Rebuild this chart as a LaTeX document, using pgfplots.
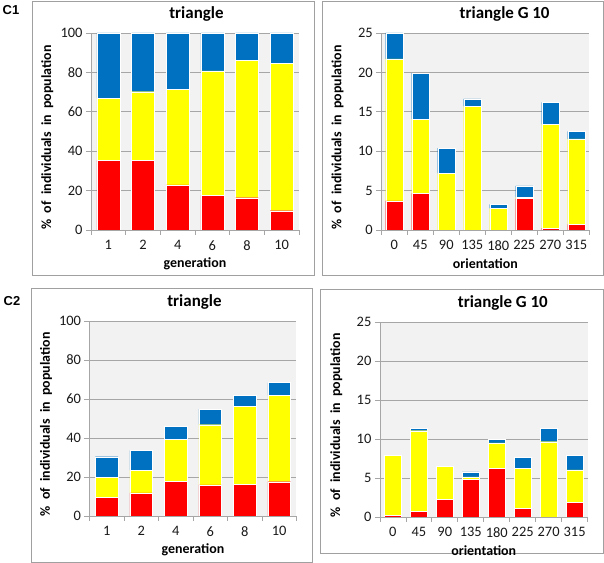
\documentclass[border=0pt]{standalone}
\usepackage{fontspec}
\setmainfont{Carlito}
\newfontfamily\arialf{Liberation Sans}
\usepackage{pgfplots}
\pgfplotsset{compat=1.18}
\definecolor{bgc}{HTML}{F2F2F2}
\definecolor{axc}{HTML}{A6A6A6}
\definecolor{boxc}{HTML}{A0A0A0}
\definecolor{cblue}{HTML}{0070C0}
\definecolor{cred}{HTML}{FF0000}
\definecolor{cyel}{HTML}{FFFF00}
\pgfplotsset{
  panel/.style={
    scale only axis,
    axis background/.style={fill=bgc},
    ybar stacked, bar width=0.66,
    axis x line*=bottom, axis y line*=left,
    axis line style={draw=axc, line width=0.8pt, -},
    ymajorgrids, major grid style={draw=axc, line width=0.7pt},
    tick align=outside,
    major tick length=5bp, minor tick length=5bp,
    major x tick style={draw=none},
    minor x tick style={draw=axc, line width=0.7pt},
    ytick style={draw=axc, line width=0.7pt},
    /pgf/number format/assume math mode=true,
    ticklabel style={font=\fontsize{14.5}{15}\selectfont, text=black!90},
    xticklabel style={yshift=-2bp},
    title style={font=\fontsize{17}{19}\bfseries, anchor=center, yshift=13bp},
    label style={font=\fontsize{14}{15}\bfseries},
    xlabel style={at={(axis description cs:0.5,0)}, anchor=center, yshift=-34bp},
    ylabel style={at={(axis description cs:-0.21,0.47)}, anchor=center},
    ylabel={\%~ of~ individuals~ in~ population},
    every axis plot/.append style={draw=white, line width=0.3pt},
    ymin=0,
  },
  gen/.style={
    xmin=-0.5, xmax=5.5, xtick={0,...,5}, xticklabels={1,2,4,6,8,10},
    minor xtick={-0.5,0.5,...,5.5},
    ymax=100, ytick={0,20,...,100}, xlabel={generation},
  },
  ori/.style={
    xmin=-0.5, xmax=7.5, xtick={0,...,7}, xticklabels={0,45,90,135,180,225,270,315},
    minor xtick={-0.5,0.5,...,7.5},
    ymax=25, ytick={0,5,...,25}, xlabel={orientation},
  },
}
\begin{document}
\begin{tikzpicture}
\useasboundingbox (0,0) rectangle (604bp,563bp);
% boxes
\draw[boxc, line width=0.9pt] (32bp,288bp) rectangle (314bp,562bp);
\draw[boxc, line width=0.9pt] (322bp,288bp) rectangle (603bp,562bp);
\draw[boxc, line width=0.9pt] (31bp,0.5bp) rectangle (312bp,275bp);
\draw[boxc, line width=0.9pt] (320bp,10bp) rectangle (603bp,274bp);
\node[font=\arialf\bfseries\fontsize{13}{14}\selectfont] at (11bp,553bp) {C1};
\node[font=\arialf\bfseries\fontsize{13}{14}\selectfont] at (12bp,262bp) {C2};

% panel C1 left
\begin{axis}[panel, gen, at={(91bp,333bp)}, anchor=south west, width=208bp, height=197bp,
  title={triangle}, title style={at={(axis description cs:0.507,1)}}]
\addplot[fill=cred] coordinates {(0,35.4) (1,35.4) (2,22.9) (3,17.6) (4,16.4) (5,9.8)};
\addplot[fill=cyel] coordinates {(0,31.5) (1,34.8) (2,48.5) (3,63.2) (4,69.7) (5,74.8)};
\addplot[fill=cblue] coordinates {(0,33.1) (1,29.8) (2,28.6) (3,19.2) (4,13.9) (5,15.4)};
\end{axis}

% panel C1 right
\begin{axis}[panel, ori, at={(381.3bp,333bp)}, anchor=south west, width=208bp, height=197bp,
  title={triangle G 10}, title style={at={(axis description cs:0.593,1)}}]
\addplot[fill=cred] coordinates {(0,3.7) (1,4.66) (2,0) (3,0) (4,0) (5,3.98) (6,0.25) (7,0.72)};
\addplot[fill=cyel] coordinates {(0,18.0) (1,9.41) (2,7.2) (3,15.7) (4,2.75) (5,0.17) (6,13.15) (7,10.85)};
\addplot[fill=cblue] coordinates {(0,3.3) (1,5.83) (2,3.2) (3,0.95) (4,0.51) (5,1.45) (6,2.8) (7,0.93)};
\end{axis}

% panel C2 left
\begin{axis}[panel, gen, at={(89.5bp,47bp)}, anchor=south west, width=207bp, height=195bp,
  title={triangle}, title style={at={(axis description cs:0.507,1)}}]
\addplot[fill=cred] coordinates {(0,9.7) (1,11.9) (2,17.9) (3,15.9) (4,16.4) (5,17.6)};
\addplot[fill=cyel] coordinates {(0,10.1) (1,11.6) (2,21.5) (3,30.9) (4,39.7) (5,44.3)};
\addplot[fill=cblue] coordinates {(0,10.6) (1,10.1) (2,6.5) (3,8.0) (4,5.8) (5,6.5)};
\end{axis}

% panel C2 right
\begin{axis}[panel, ori, at={(379.9bp,46bp)}, anchor=south west, width=207.7bp, height=195bp,
  title={triangle G 10}, title style={at={(axis description cs:0.592,1)}}]
\addplot[fill=cred] coordinates {(0,0.2) (1,0.73) (2,2.3) (3,4.87) (4,6.28) (5,1.15) (6,0) (7,1.84)};
\addplot[fill=cyel] coordinates {(0,7.7) (1,10.34) (2,4.2) (3,0.26) (4,3.21) (5,5.09) (6,9.66) (7,4.19)};
\addplot[fill=cblue] coordinates {(0,0) (1,0.3) (2,0) (3,0.64) (4,0.47) (5,1.41) (6,1.71) (7,1.87)};
\end{axis}
\end{tikzpicture}
\end{document}
